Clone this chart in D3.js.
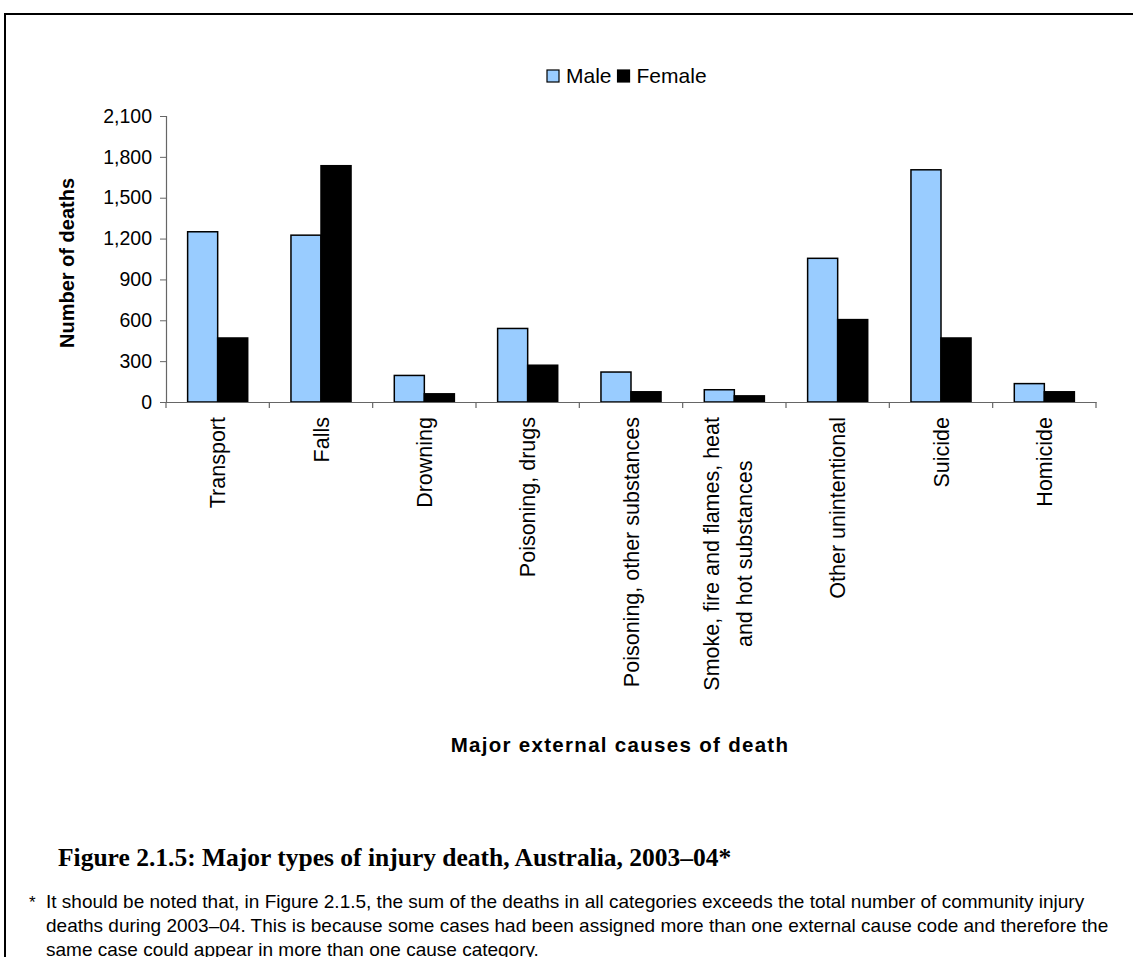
<!DOCTYPE html>
<html>
<head>
<meta charset="utf-8">
<script src="https://cdn.jsdelivr.net/npm/d3@7"></script>
<style>
  html, body { margin: 0; padding: 0; background: #fff; }
  svg { display: block; }
</style>
</head>
<body>
<svg id="chart" width="1133" height="957"></svg>
<script>
// ---- Data ----
const categories = [
  "Transport", "Falls", "Drowning", "Poisoning, drugs",
  "Poisoning, other substances", "Smoke, fire and flames, heat and hot substances",
  "Other unintentional", "Suicide", "Homicide"
];
const categoryLabelLines = [
  ["Transport"], ["Falls"], ["Drowning"], ["Poisoning, drugs"],
  ["Poisoning, other substances"], ["Smoke, fire and flames, heat", "and hot substances"],
  ["Other unintentional"], ["Suicide"], ["Homicide"]
];
const series = ["Male", "Female"];
const maleValues   = [1250, 1225, 195, 540, 220, 90, 1055, 1705, 135];
const femaleValues = [470, 1735, 60, 270, 75, 45, 605, 470, 75];
const yTickValues = [0, 300, 600, 900, 1200, 1500, 1800, 2100];
const yTitle = "Number of deaths";
const xTitle = "Major external causes of death";
const caption = "Figure 2.1.5: Major types of injury death, Australia, 2003\u201304*";
const footnoteLines = [
  "It should be noted that, in Figure 2.1.5, the sum of the deaths in all categories exceeds the total number of community injury",
  "deaths during 2003\u201304. This is because some cases had been assigned more than one external cause code and therefore the",
  "same case could appear in more than one cause category."
];

const colors = { Male: "#99CCFF", Female: "#000000" };
const valuesBySeries = { Male: maleValues, Female: femaleValues };

// ---- Layout ----
const svg = d3.select("#chart");
const sans = "'Liberation Sans', Arial, sans-serif";
const serif = "'Liberation Serif', 'Times New Roman', serif";

// frame
svg.append("path")
  .attr("d", "M5,957 L5,14 L1133,14")
  .attr("fill", "none").attr("stroke", "#000").attr("stroke-width", 2);

const plot = { left: 166, right: 1096, top: 116, bottom: 402 };

const x = d3.scaleBand().domain(categories).range([plot.left, plot.right]).paddingInner(0).paddingOuter(0);
const xs = d3.scaleBand().domain(series).range([0, x.bandwidth()]).paddingInner(0).paddingOuter(0.72);
const y = d3.scaleLinear().domain([0, 2100]).range([plot.bottom, plot.top]);

// bars
const groups = svg.append("g").selectAll("g").data(categories).join("g")
  .attr("transform", d => `translate(${x(d)},0)`);

groups.selectAll("rect")
  .data((d, i) => series.map(s => ({ s, v: valuesBySeries[s][i] })))
  .join("rect")
  .attr("x", d => xs(d.s))
  .attr("y", d => y(d.v))
  .attr("width", xs.bandwidth())
  .attr("height", d => y(0) - y(d.v))
  .attr("fill", d => colors[d.s])
  .attr("stroke", "#000")
  .attr("stroke-width", 1.5);

// y axis
const yAxis = d3.axisLeft(y).tickValues(yTickValues).tickFormat(d3.format(",")).tickSize(6).tickPadding(8);
const gy = svg.append("g").attr("transform", `translate(${plot.left},0)`).call(yAxis);
gy.select(".domain").attr("stroke", "#666").attr("stroke-width", 1.2);
gy.selectAll(".tick line").attr("stroke", "#666");
gy.selectAll(".tick text").attr("font-family", sans).attr("font-size", 19.5).attr("fill", "#000");

// x axis
const xAxis = d3.axisBottom(x).tickSize(0).tickFormat("");
const gx = svg.append("g").attr("transform", `translate(0,${plot.bottom})`).call(xAxis);
gx.select(".domain").attr("stroke", "#666").attr("stroke-width", 1.2);
const boundaries = categories.map(c => x(c)).concat([plot.right]);
gx.selectAll(".btick").data(boundaries).join("line")
  .attr("class", "btick")
  .attr("x1", d => d).attr("x2", d => d)
  .attr("y1", 0).attr("y2", 6)
  .attr("stroke", "#666").attr("stroke-width", 1.2);

// category labels (rotated)
const labelTop = 417;
const fsCat = 21.5;
categoryLabelLines.forEach((lines, i) => {
  const cx = x(categories[i]) + x.bandwidth() / 2;
  const n = lines.length;
  const g = svg.append("g");
  const texts = lines.map((ln, j) => {
    const off = n === 1 ? 0 : (j === 0 ? -23 : 10);
    return g.append("text")
      .attr("font-family", sans).attr("font-size", fsCat).attr("fill", "#000")
      .attr("text-anchor", "middle")
      .text(ln)
      .datum(off);
  });
  const maxLen = d3.max(texts, t => t.node().getComputedTextLength());
  texts.forEach(t => {
    const off = t.datum();
    const cy = labelTop + maxLen / 2;
    t.attr("transform", `translate(${cx + off + fsCat * 0.36},${cy}) rotate(-90)`);
  });
});

// y title
svg.append("text")
  .attr("transform", `translate(${74},${263}) rotate(-90)`)
  .attr("text-anchor", "middle")
  .attr("font-family", sans).attr("font-weight", "bold").attr("font-size", 20)
  .text(yTitle);

// x title
svg.append("text")
  .attr("x", 620).attr("y", 752)
  .attr("text-anchor", "middle")
  .attr("font-family", sans).attr("font-weight", "bold").attr("font-size", 20.5)
  .attr("letter-spacing", 1.3)
  .text(xTitle);

// legend
const legend = svg.append("g");
let lx = 547;
const legY = 83;
series.forEach(s => {
  legend.append("rect").attr("x", lx).attr("y", legY - 13).attr("width", 12).attr("height", 12)
    .attr("fill", colors[s]).attr("stroke", "#000").attr("stroke-width", 1.2);
  const t = legend.append("text").attr("x", lx + 19).attr("y", legY)
    .attr("font-family", sans).attr("font-size", 21).attr("fill", "#000").text(s);
  lx = lx + 19 + t.node().getComputedTextLength() + 6;
});

// caption
svg.append("text")
  .attr("x", 58).attr("y", 866)
  .attr("font-family", serif).attr("font-weight", "bold").attr("font-size", 25.5)
  .text(caption);

// footnote
svg.append("text").attr("x", 29).attr("y", 908)
  .attr("font-family", sans).attr("font-size", 17).text("*");
footnoteLines.forEach((ln, i) => {
  svg.append("text").attr("x", 46).attr("y", 908 + i * 24)
    .attr("font-family", sans).attr("font-size", 19).text(ln);
});
</script>
</body>
</html>
